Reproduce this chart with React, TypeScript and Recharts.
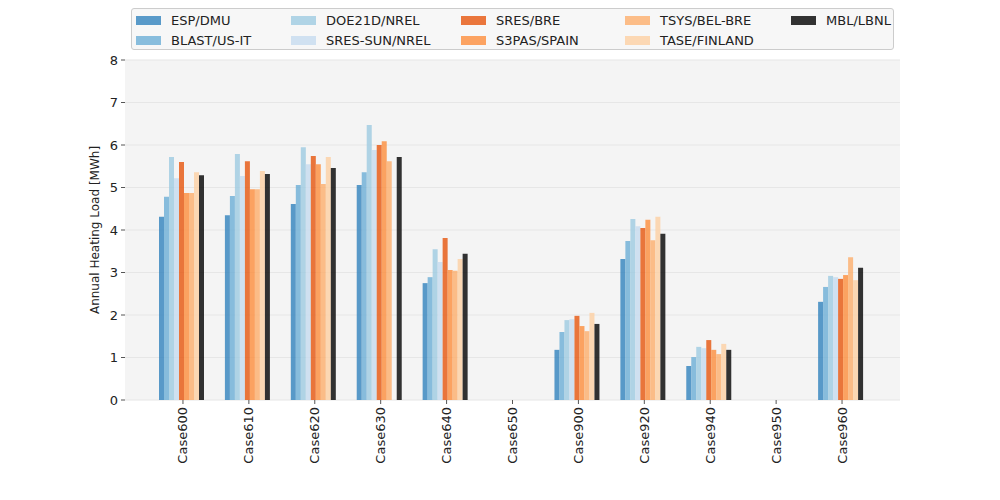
import React from 'react';
import { BarChart, Bar, XAxis, YAxis, CartesianGrid } from 'recharts';

const cases = ['Case600', 'Case610', 'Case620', 'Case630', 'Case640', 'Case650', 'Case900', 'Case920', 'Case940', 'Case950', 'Case960'];

const espDmu = [4.31, 4.35, 4.61, 5.06, 2.75, 0, 1.18, 3.32, 0.8, 0, 2.31];
const blastUsIt = [4.78, 4.8, 5.06, 5.36, 2.89, 0, 1.6, 3.74, 1.01, 0, 2.66];
const doe21dNrel = [5.72, 5.79, 5.95, 6.47, 3.55, 0, 1.88, 4.26, 1.25, 0, 2.92];
const sresSunNrel = [5.22, 5.27, 5.55, 5.88, 3.25, 0, 1.9, 4.09, 1.22, 0, 2.89];
const sresBre = [5.6, 5.62, 5.74, 6.0, 3.81, 0, 1.98, 4.05, 1.41, 0, 2.85];
const s3pasSpain = [4.87, 4.96, 5.55, 6.09, 3.06, 0, 1.74, 4.24, 1.18, 0, 2.94];
const tsysBelBre = [4.87, 4.96, 5.08, 5.62, 3.04, 0, 1.62, 3.76, 1.08, 0, 3.36];
const taseFinland = [5.36, 5.39, 5.72, 0, 3.32, 0, 2.05, 4.31, 1.32, 0, 2.82];
const mblLbnl = [5.29, 5.32, 5.46, 5.72, 3.44, 0, 1.79, 3.91, 1.18, 0, 3.11];

const yTicks = [0, 1, 2, 3, 4, 5, 6, 7, 8];

const series = [
  { key: 'ESP/DMU', values: espDmu, color: '#3182bd' },
  { key: 'BLAST/US-IT', values: blastUsIt, color: '#6baed6' },
  { key: 'DOE21D/NREL', values: doe21dNrel, color: '#9ecae1' },
  { key: 'SRES-SUN/NREL', values: sresSunNrel, color: '#c6dbef' },
  { key: 'SRES/BRE', values: sresBre, color: '#e6550d' },
  { key: 'S3PAS/SPAIN', values: s3pasSpain, color: '#fd8d3c' },
  { key: 'TSYS/BEL-BRE', values: tsysBelBre, color: '#fdae6b' },
  { key: 'TASE/FINLAND', values: taseFinland, color: '#fdd0a2' },
  { key: 'MBL/LBNL', values: mblLbnl, color: '#000000' },
];

const data = cases.map((name, i) => {
  const row: Record<string, any> = { name };
  series.forEach((s) => { row[s.key] = s.values[i]; });
  return row;
});

const font = '"DejaVu Sans", sans-serif';

const CaseTick = (props: any) => {
  const { x, payload } = props;
  return (
    <g>
      <line x1={x} x2={x} y1={400} y2={404} stroke="#555" />
      <text
        x={0}
        y={0}
        transform={`translate(${x + 4.5},${407}) rotate(-90)`}
        textAnchor="end"
        fontSize={13}
        fontFamily={font}
        fill="#222"
      >
        {payload.value}
      </text>
    </g>
  );
};

// matplotlib-style legend, 5 columns filled column-first
const legendCols = [136, 291, 461, 625, 791];
const LegendBox = () => (
  <div
    style={{
      position: 'absolute',
      left: 131,
      top: 8,
      width: 763,
      height: 42,
      background: '#f7f7f7',
      border: '1px solid #cccccc',
      borderRadius: 3,
      boxSizing: 'border-box',
      fontFamily: font,
      fontSize: 13,
      color: '#222',
    }}
  >
    {series.map((s, i) => {
      const col = Math.floor(i / 2);
      const row = i % 2;
      const left = legendCols[col] - 132;
      return (
        <div key={s.key} style={{ position: 'absolute', left, top: 3 + row * 20, display: 'flex', alignItems: 'center', height: 16 }}>
          <span style={{ width: 25, height: 9, background: s.color, opacity: 0.8, display: 'inline-block' }} />
          <span style={{ marginLeft: 10, whiteSpace: 'nowrap' }}>{s.key}</span>
        </div>
      );
    })}
  </div>
);

export default function App() {
  return (
    <div style={{ position: 'absolute', left: 0, top: 0, width: 1000, height: 500, background: '#fff' }}>
      <BarChart
        width={1000}
        height={500}
        data={data}
        margin={{ top: 60, right: 100, left: 0, bottom: 0 }}
        barCategoryGap={9}
        barGap={0}
      >
        <CartesianGrid vertical={false} stroke="#e6e6e6" strokeWidth={1.2} fill="#f4f4f4" />
        <XAxis
          dataKey="name"
          interval={0}
          height={100}
          axisLine={false}
          tickLine={false}
          padding={{ left: 25, right: 25 }}
          tick={<CaseTick />}
        />
        <YAxis
          domain={[0, 8]}
          ticks={yTicks}
          width={125}
          axisLine={false}
          tickLine={{ stroke: '#555' }}
          tickSize={4}
          tickMargin={3}
          tick={{ fill: '#222', fontSize: 13, fontFamily: font }}
          label={{ value: 'Annual Heating Load [MWh]', angle: -90, position: 'insideLeft', dx: 90, dy: 0, style: { textAnchor: 'middle', fill: '#222', fontSize: 12, fontFamily: font } }}
        />
        {series.map((s) => (
          <Bar key={s.key} dataKey={s.key} fill={s.color} fillOpacity={0.8} isAnimationActive={false} />
        ))}
      </BarChart>
      <LegendBox />
    </div>
  );
}
